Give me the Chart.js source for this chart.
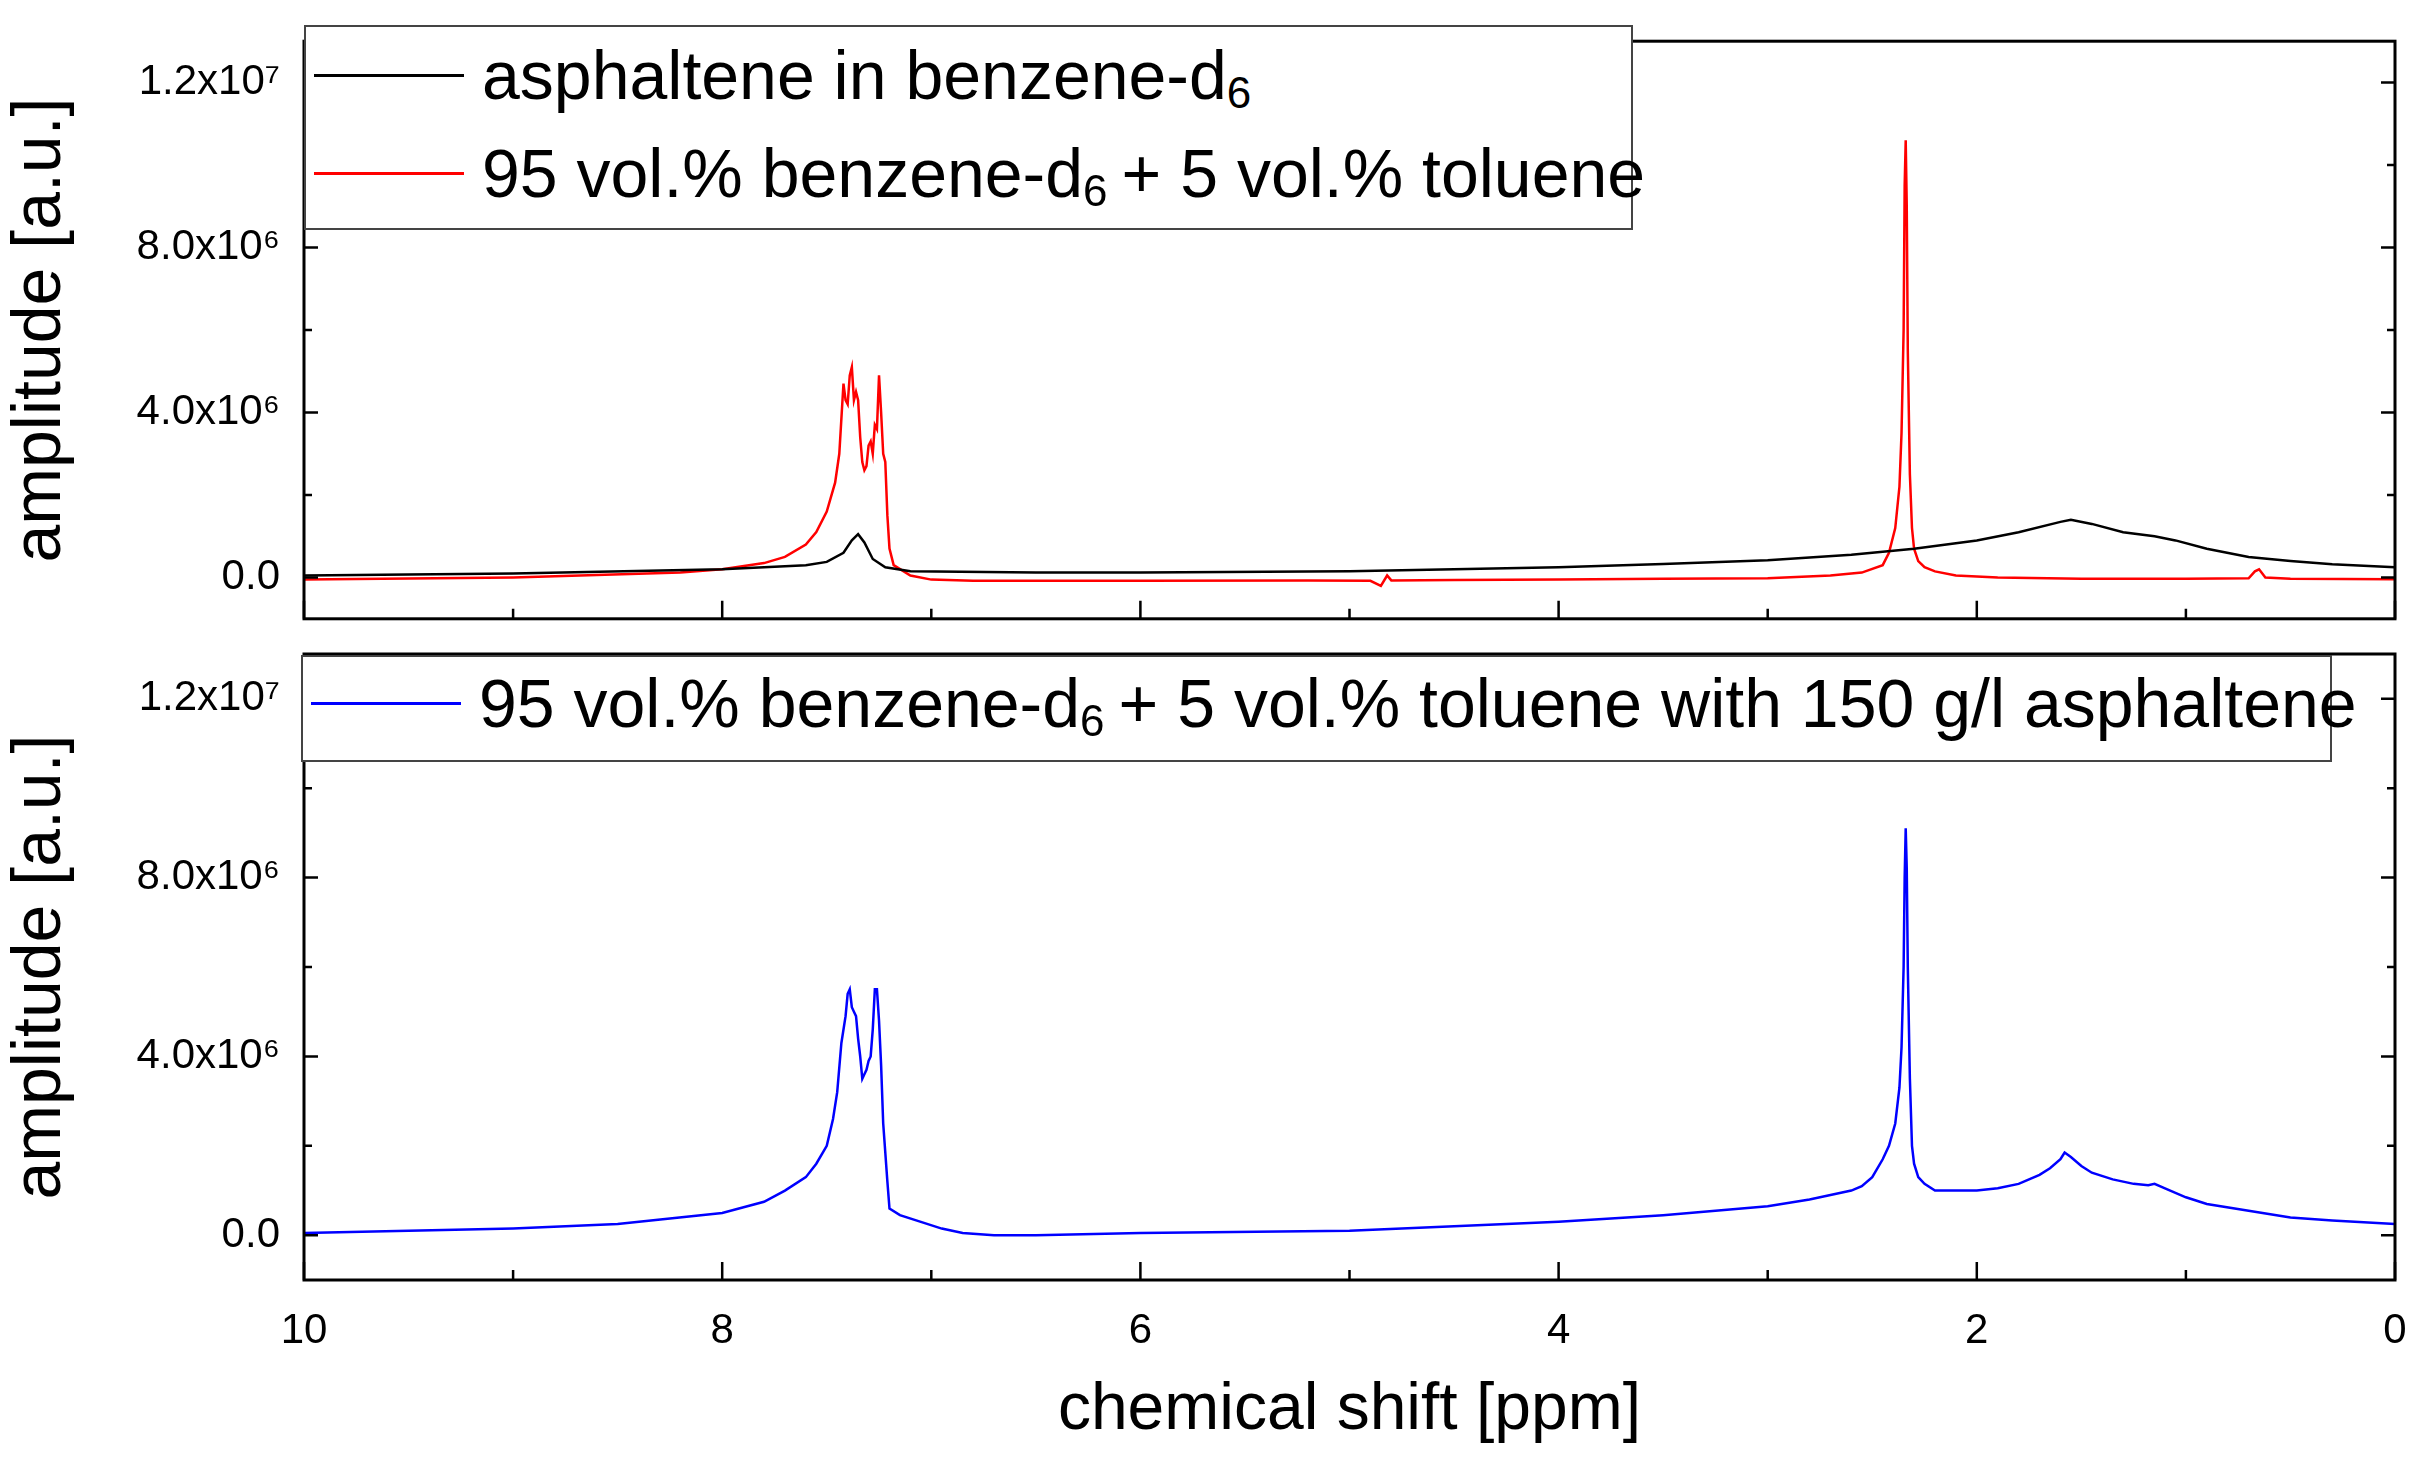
<!DOCTYPE html>
<html><head><meta charset="utf-8">
<script src="https://cdn.jsdelivr.net/npm/chart.js@4"></script>
<style>
body{margin:0;width:2418px;height:1464px;background:#fff;position:relative;overflow:hidden;font-family:"Liberation Sans",Arial,sans-serif}
canvas{position:absolute;left:0}
.leg{position:absolute;background:#fff;border:2px solid #444;box-sizing:border-box}
.row{position:absolute;left:0;display:flex;align-items:center;font-size:68px;color:#000;white-space:nowrap;line-height:80px}
.sw{width:150px;height:3px;margin:0 18px 0 8px}
sub{font-size:44px;position:relative;top:18px;line-height:0;margin-right:14px}
</style></head><body>
<canvas id="c1" width="2418" height="660" style="top:0;width:2418px;height:660px"></canvas>
<canvas id="c2" width="2418" height="864" style="top:600px;width:2418px;height:864px"></canvas>
<div class="leg" style="left:304px;top:25px;width:1329px;height:205px">
 <div class="row" style="top:8px"><div class="sw" style="background:#000"></div>asphaltene in benzene-d<sub>6</sub></div>
 <div class="row" style="top:106px"><div class="sw" style="background:#f00"></div>95 vol.% benzene-d<sub>6</sub>+ 5 vol.% toluene</div>
</div>
<div class="leg" style="left:301px;top:655px;width:2031px;height:107px">
 <div class="row" style="top:6px"><div class="sw" style="background:#00f"></div>95 vol.% benzene-d<sub>6</sub>+ 5 vol.% toluene with 150 g/l asphaltene</div>
</div>
<script>
const xTicks=[0,2,4,6,8,10];
const yTickValues=[0,2e6,4e6,6e6,8e6,1e7,1.2e7];
const yTickLabels={0:'0.0',4000000:'4.0x10⁶',8000000:'8.0x10⁶',12000000:'1.2x10⁷'};
const blackX=[10,9,8,7.6,7.5,7.42,7.38,7.35,7.32,7.28,7.22,7.1,6.5,6,5,4,3.5,3,2.6,2.3,2,1.8,1.6,1.55,1.45,1.3,1.15,1.05,0.9,0.7,0.5,0.3,0];
const blackY=[0.05,0.1,0.2,0.3,0.38,0.6,0.9,1.05,0.85,0.45,0.25,0.15,0.12,0.12,0.15,0.25,0.33,0.42,0.55,0.7,0.9,1.1,1.35,1.4,1.3,1.1,1.0,0.9,0.7,0.5,0.4,0.32,0.25];
const redX=[10,9,8.2,8,7.8,7.7,7.6,7.55,7.5,7.46,7.44,7.42,7.41,7.40,7.39,7.38,7.37,7.36,7.35,7.34,7.33,7.32,7.31,7.30,7.29,7.28,7.27,7.26,7.25,7.24,7.23,7.22,7.21,7.2,7.18,7.1,7.0,6.8,6.5,6,5.2,4.9,4.85,4.82,4.8,4.5,4,3.5,3,2.7,2.55,2.45,2.42,2.39,2.37,2.36,2.35,2.345,2.34,2.335,2.33,2.32,2.31,2.3,2.28,2.25,2.2,2.1,1.9,1.5,1.0,0.7,0.67,0.65,0.62,0.5,0];
const redY=[-0.05,0.0,0.12,0.2,0.35,0.5,0.8,1.1,1.6,2.3,3.0,4.7,4.3,4.2,4.9,5.1,4.3,4.5,4.3,3.4,2.8,2.6,2.7,3.2,3.3,3.0,3.7,3.6,4.9,4.0,3.0,2.8,1.5,0.7,0.3,0.05,-0.05,-0.08,-0.08,-0.08,-0.07,-0.08,-0.2,0.05,-0.07,-0.06,-0.05,-0.03,-0.02,0.05,0.12,0.3,0.6,1.2,2.2,3.5,6.0,9.5,10.6,9.0,5.5,2.5,1.2,0.7,0.4,0.25,0.15,0.05,0.0,-0.03,-0.03,-0.02,0.15,0.2,0.0,-0.03,-0.04];
const blueX=[10,9,8.5,8,7.8,7.7,7.6,7.55,7.5,7.47,7.45,7.43,7.41,7.40,7.39,7.38,7.37,7.36,7.35,7.34,7.33,7.32,7.31,7.30,7.29,7.28,7.27,7.26,7.25,7.24,7.23,7.21,7.2,7.15,7.05,6.95,6.85,6.7,6.5,6,5,4,3.5,3,2.8,2.6,2.55,2.5,2.45,2.42,2.39,2.37,2.36,2.35,2.345,2.34,2.335,2.33,2.32,2.31,2.3,2.28,2.25,2.2,2.1,2.0,1.9,1.8,1.7,1.65,1.6,1.58,1.55,1.5,1.45,1.35,1.25,1.18,1.15,1.1,1.0,0.9,0.7,0.5,0.3,0];
const blueY=[0.05,0.15,0.25,0.5,0.75,1.0,1.3,1.6,2.0,2.6,3.2,4.3,4.9,5.4,5.5,5.1,5.0,4.9,4.4,4.0,3.5,3.6,3.7,3.9,4.0,4.6,5.5,5.5,4.8,3.8,2.5,1.2,0.6,0.45,0.3,0.15,0.05,0.0,0.0,0.05,0.1,0.3,0.45,0.65,0.8,1.0,1.1,1.3,1.7,2.0,2.5,3.3,4.2,6.0,8.0,9.1,8.2,6.0,3.5,2.0,1.6,1.3,1.15,1.0,1.0,1.0,1.05,1.15,1.35,1.5,1.7,1.85,1.75,1.55,1.4,1.25,1.15,1.12,1.15,1.05,0.85,0.7,0.55,0.4,0.33,0.25];
const pts=(xs,ys)=>xs.map((x,i)=>({x:x,y:ys[i]*1e6}));
const tickFont={family:'"Liberation Sans Narrow","Liberation Sans",sans-serif',size:42};
const frame={id:'frame',afterDraw(c){const a=c.chartArea,ctx=c.ctx;ctx.save();ctx.strokeStyle='#000';ctx.lineWidth=3;ctx.strokeRect(a.left,a.top,a.right-a.left,a.bottom-a.top);
 const xs=c.scales.x,ys=c.scales.y;ctx.lineWidth=2.5;ctx.beginPath();
 for(let v=0;v<=10;v++){const p=xs.getPixelForValue(v),L=v%2?10:18;ctx.moveTo(p,a.bottom);ctx.lineTo(p,a.bottom-L);}
 for(let v=0;v<=12e6;v+=2e6){const p=ys.getPixelForValue(v),L=v%4e6?8:14;ctx.moveTo(a.left,p);ctx.lineTo(a.left+L,p);ctx.moveTo(a.right,p);ctx.lineTo(a.right-L,p);}
 ctx.stroke();ctx.restore();}};
function yAxis(){return {type:'linear',min:-1e6,max:1.3e7,grid:{display:false},border:{display:false},
 afterBuildTicks:s=>{s.ticks=yTickValues.map(v=>({value:v}));},
 ticks:{autoSkip:false,font:tickFont,color:'#000',padding:16,callback:v=>{const k=Math.round(v);return yTickLabels[k]!==undefined?yTickLabels[k]:'';}},
 title:{display:true,text:'amplitude [a.u.]',font:{family:'"Liberation Sans",sans-serif',size:68},color:'#000',padding:{top:0,bottom:6}},
 afterFit:s=>{s.width=304;}};}
function ds(d,col){return {data:d,borderColor:col,borderWidth:2.5,pointRadius:0,tension:0,fill:false};}
new Chart(document.getElementById('c1'),{type:'line',
 data:{datasets:[ds(pts(blackX,blackY),'#000'),ds(pts(redX,redY),'#f00')]},
 options:{responsive:false,animation:false,layout:{padding:{left:0,right:23,top:25,bottom:6}},
 plugins:{legend:{display:false},tooltip:{enabled:false}},
 scales:{x:{type:'linear',reverse:true,min:0,max:10,display:false},y:yAxis()}},plugins:[frame]});
new Chart(document.getElementById('c2'),{type:'line',
 data:{datasets:[ds(pts(blueX,blueY),'#00f')]},
 options:{responsive:false,animation:false,layout:{padding:{left:0,right:23,top:54,bottom:0}},
 plugins:{legend:{display:false},tooltip:{enabled:false}},
 scales:{x:{type:'linear',reverse:true,min:0,max:10,grid:{display:false},border:{display:false},
  afterBuildTicks:s=>{s.ticks=xTicks.map(v=>({value:v}));},
  ticks:{font:tickFont,color:'#000',padding:18,maxRotation:0},
  title:{display:true,text:'chemical shift [ppm]',font:{family:'"Liberation Sans",sans-serif',size:66},color:'#000',padding:{top:20,bottom:14}},
  afterFit:s=>{s.height=184;}},y:yAxis()}},plugins:[frame]});
</script></body></html>
